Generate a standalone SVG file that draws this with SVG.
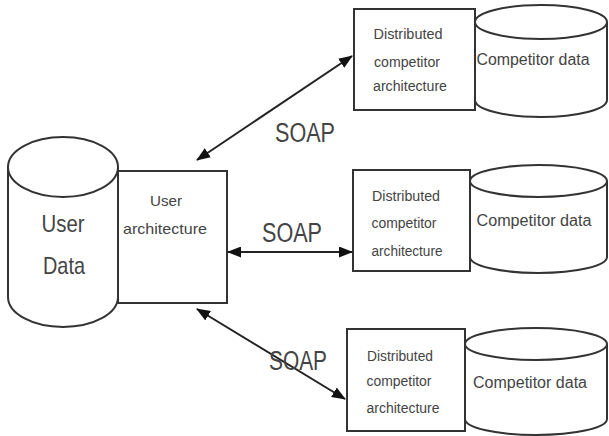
<svg xmlns="http://www.w3.org/2000/svg" width="609" height="436" viewBox="0 0 609 436">
<style>
.s{fill:#fff;stroke:#333;stroke-width:2}
.t{font-family:"Liberation Sans",Arial,sans-serif;fill:#444;text-anchor:middle}
.c{stroke:#222;stroke-width:2;fill:none;marker-start:url(#ah);marker-end:url(#ah)}
</style>
<defs>
<marker id="ah" viewBox="0 0 14 11" refX="13" refY="5.5" markerWidth="14" markerHeight="11" markerUnits="userSpaceOnUse" orient="auto-start-reverse">
<path d="M0,0 L14,5.5 L0,11 Z" fill="#111"/>
</marker>
</defs>
<rect width="609" height="436" fill="#fff"/>
<g id="user-data">
<path class="s" d="M8,167 L8,297 A55,30 0 0 0 118,297 L118,167"/>
<ellipse class="s" cx="63" cy="167" rx="55" ry="30"/>
<text class="t" x="63" y="232" font-size="24" textLength="43" lengthAdjust="spacingAndGlyphs">User</text>
<text class="t" x="64" y="274" font-size="24" textLength="42" lengthAdjust="spacingAndGlyphs">Data</text>
</g>
<g id="user-arch">
<rect class="s" x="118" y="171" width="109" height="132"/>
<text class="t" x="166" y="206" font-size="15" textLength="32" lengthAdjust="spacingAndGlyphs">User</text>
<text class="t" x="165" y="234" font-size="15" textLength="84" lengthAdjust="spacingAndGlyphs">architecture</text>
</g>
<g id="comp-arch-1">
<rect class="s" x="354" y="9" width="121" height="101"/>
<text class="t" x="408" y="39" font-size="14" textLength="69" lengthAdjust="spacingAndGlyphs">Distributed</text>
<text class="t" x="407" y="67" font-size="14" textLength="66" lengthAdjust="spacingAndGlyphs">competitor</text>
<text class="t" x="410" y="91" font-size="14" textLength="74" lengthAdjust="spacingAndGlyphs">architecture</text>
</g>
<g id="comp-data-1">
<path class="s" d="M475,22 L475,100 A66,17 0 0 0 607,100 L607,22"/>
<ellipse class="s" cx="541" cy="22" rx="66" ry="17"/>
<text class="t" x="533" y="65" font-size="16" textLength="113" lengthAdjust="spacingAndGlyphs">Competitor data</text>
</g>
<g id="comp-arch-2">
<rect class="s" x="353" y="170" width="117" height="101"/>
<text class="t" x="406" y="201" font-size="14" textLength="68" lengthAdjust="spacingAndGlyphs">Distributed</text>
<text class="t" x="404" y="228" font-size="14" textLength="65" lengthAdjust="spacingAndGlyphs">competitor</text>
<text class="t" x="407" y="256" font-size="14" textLength="71" lengthAdjust="spacingAndGlyphs">architecture</text>
</g>
<g id="comp-data-2">
<path class="s" d="M470,181 L470,257 A68.5,16 0 0 0 607,257 L607,181"/>
<ellipse class="s" cx="538.5" cy="181" rx="68.5" ry="16"/>
<text class="t" x="534" y="226" font-size="16" textLength="115" lengthAdjust="spacingAndGlyphs">Competitor data</text>
</g>
<g id="comp-arch-3">
<rect class="s" x="347" y="329" width="118" height="102"/>
<text class="t" x="400" y="361" font-size="14" textLength="66" lengthAdjust="spacingAndGlyphs">Distributed</text>
<text class="t" x="399" y="386" font-size="14" textLength="65" lengthAdjust="spacingAndGlyphs">competitor</text>
<text class="t" x="403" y="413" font-size="14" textLength="73" lengthAdjust="spacingAndGlyphs">architecture</text>
</g>
<g id="comp-data-3">
<path class="s" d="M465,344 L465,419 A71,16 0 0 0 607,419 L607,344"/>
<ellipse class="s" cx="536" cy="344" rx="71" ry="16"/>
<text class="t" x="530" y="388" font-size="16" textLength="114" lengthAdjust="spacingAndGlyphs">Competitor data</text>
</g>
<g id="connectors">
<line class="c" x1="197" y1="160" x2="352" y2="56"/>
<line class="c" x1="228" y1="252" x2="352" y2="252"/>
<line class="c" x1="197" y1="309" x2="345" y2="399"/>
<text class="t" x="305" y="142" font-size="27" textLength="60" lengthAdjust="spacingAndGlyphs">SOAP</text>
<text class="t" x="292" y="242" font-size="27" textLength="60" lengthAdjust="spacingAndGlyphs">SOAP</text>
<text class="t" x="298" y="370" font-size="27" textLength="58" lengthAdjust="spacingAndGlyphs">SOAP</text>
</g>
</svg>
